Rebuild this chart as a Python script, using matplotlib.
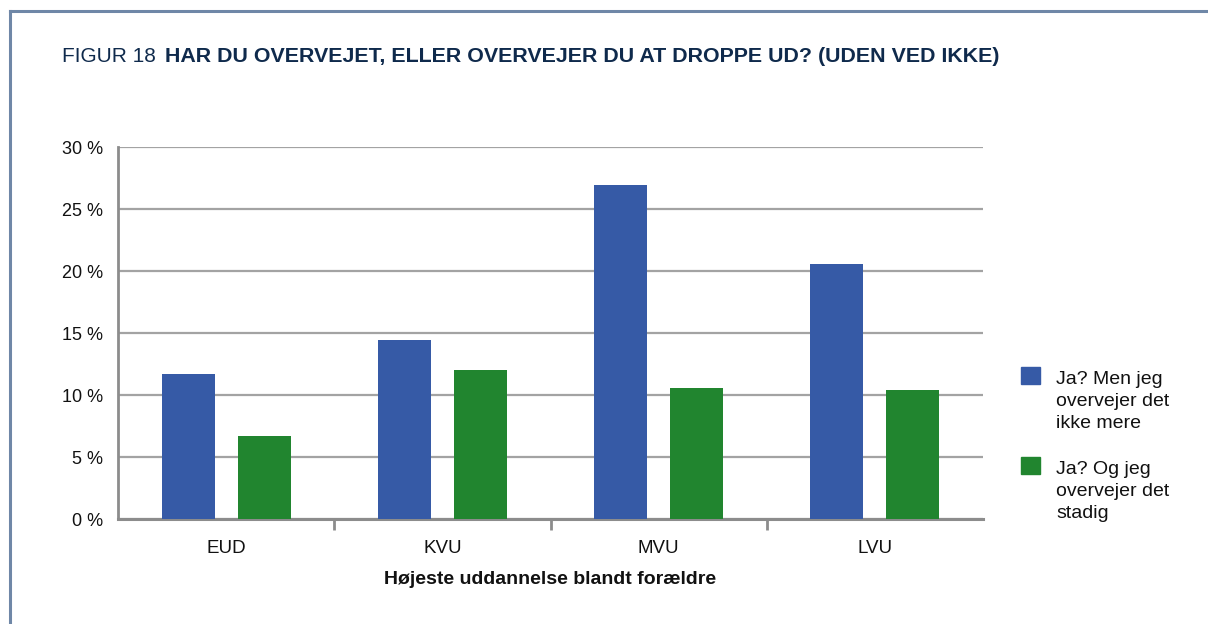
import matplotlib
matplotlib.use("Agg")
import matplotlib.pyplot as plt
from matplotlib.lines import Line2D
from matplotlib.patches import Rectangle
import numpy as np

plt.rcParams['font.family'] = ['Liberation Sans', 'DejaVu Sans']

# data
categories = ["EUD", "KVU", "MVU", "LVU"]
ja_ikke_mere = [11.7, 14.4, 26.9, 20.6]
ja_stadig = [6.7, 12.0, 10.6, 10.4]
series_labels = ["Ja? Men jeg\novervejer det\nikke mere", "Ja? Og jeg\novervejer det\nstadig"]
yticks = [0, 5, 10, 15, 20, 25, 30]

BLUE = "#365aa6"
GREEN = "#21852f"
NAVY = "#0f2a4c"
GRID = "#a3a3a3"
AXIS = "#8c8c8c"
FRAME = "#6f87a7"
TXT = "#111111"

W, H = 1208, 624
fig = plt.figure(figsize=(W / 100, H / 100), dpi=100)
ax = fig.add_axes([118 / W, 1 - 519 / H, (983 - 118) / W, (519 - 147) / H])

x = np.arange(len(categories))
bw = 0.245
off = 0.176
ax.bar(x - off, ja_ikke_mere, bw, color=BLUE, zorder=3)
ax.bar(x + off, ja_stadig, bw, color=GREEN, zorder=3)

ax.set_xlim(-0.5, len(categories) - 0.5)
ax.set_ylim(0, 30)
ax.set_yticks(yticks)
ax.set_yticklabels([f"{v} %" for v in yticks], fontsize=13, color=TXT)
ax.tick_params(axis="y", length=0, pad=11)

ax.set_xticks(x)
ax.set_xticklabels(categories, fontsize=13.5, color=TXT)
ax.tick_params(axis="x", which="major", length=0, pad=15)
ax.set_xticks(np.arange(0.5, len(categories) - 1), minor=True)
ax.tick_params(axis="x", which="minor", length=8, width=2, color=AXIS, direction="out")

ax.yaxis.grid(True, color=GRID, linewidth=1.6, zorder=0)
ax.set_axisbelow(True)
for s in ["top", "right"]:
    ax.spines[s].set_visible(False)
ax.spines["left"].set_color(AXIS)
ax.spines["left"].set_linewidth(2)
ax.spines["bottom"].set_color(AXIS)
ax.spines["bottom"].set_linewidth(2.2)

ax.set_xlabel("Højeste uddannelse blandt forældre", fontsize=14, fontweight="bold",
              color=TXT, labelpad=10)

# title
t1 = fig.text(62 / W, 1 - 57 / H, "FIGUR 18", fontsize=15, color=NAVY, va="center")
fig.canvas.draw()
bb = t1.get_window_extent()
fig.text((bb.x1 + 9) / W, 1 - 57 / H,
         "HAR DU OVERVEJET, ELLER OVERVEJER DU AT DROPPE UD? (UDEN VED IKKE)",
         fontsize=15.4, fontweight="bold", color=NAVY, va="center")

# legend
for color, label, ytop in [(BLUE, series_labels[0], 367), (GREEN, series_labels[1], 457)]:
    fig.patches.append(Rectangle((1021 / W, 1 - (ytop + 17) / H), 19 / W, 17 / H,
                                 color=color, transform=fig.transFigure, figure=fig))
    fig.text(1056 / W, 1 - (ytop + 4) / H, label, fontsize=14, color=TXT,
             va="top", linespacing=1.4)

# frame
fig.add_artist(Line2D([9.5 / W, 1], [1 - 11 / H, 1 - 11 / H], color=FRAME, linewidth=2.2,
                      transform=fig.transFigure))
fig.add_artist(Line2D([9.5 / W, 9.5 / W], [0, 1 - 11 / H], color=FRAME, linewidth=2.2,
                      transform=fig.transFigure))

fig.savefig("out.png", dpi=100)
